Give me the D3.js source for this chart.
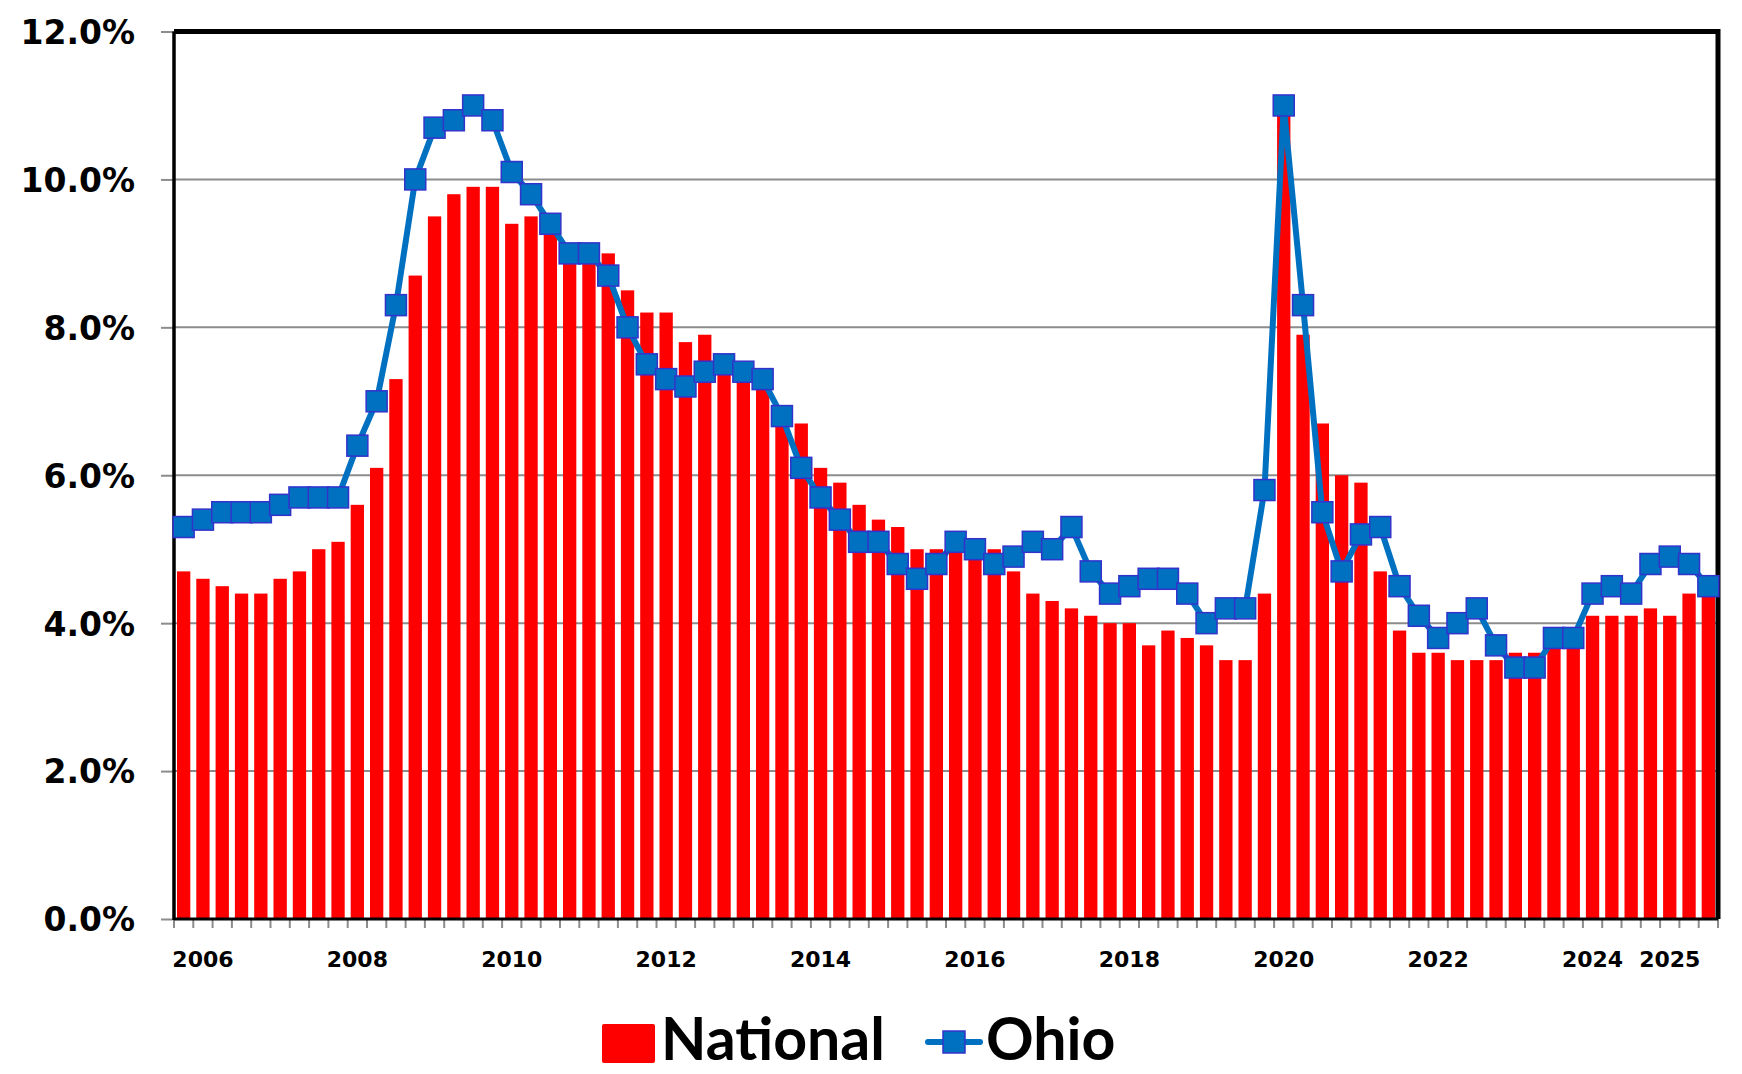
<!DOCTYPE html>
<html>
<head>
<meta charset="utf-8">
<script src="https://cdn.jsdelivr.net/npm/d3@7"></script>
<style>
  body { margin: 0; background: #fff; }
  svg { display: block; }
</style>
</head>
<body>
<div id="chart"></div>
<script>
// quarterly categories, 2005 Q4 .. 2025 Q3
const quarters = [
  "2005Q4",
  "2006Q1", "2006Q2", "2006Q3", "2006Q4",
  "2007Q1", "2007Q2", "2007Q3", "2007Q4",
  "2008Q1", "2008Q2", "2008Q3", "2008Q4",
  "2009Q1", "2009Q2", "2009Q3", "2009Q4",
  "2010Q1", "2010Q2", "2010Q3", "2010Q4",
  "2011Q1", "2011Q2", "2011Q3", "2011Q4",
  "2012Q1", "2012Q2", "2012Q3", "2012Q4",
  "2013Q1", "2013Q2", "2013Q3", "2013Q4",
  "2014Q1", "2014Q2", "2014Q3", "2014Q4",
  "2015Q1", "2015Q2", "2015Q3", "2015Q4",
  "2016Q1", "2016Q2", "2016Q3", "2016Q4",
  "2017Q1", "2017Q2", "2017Q3", "2017Q4",
  "2018Q1", "2018Q2", "2018Q3", "2018Q4",
  "2019Q1", "2019Q2", "2019Q3", "2019Q4",
  "2020Q1", "2020Q2", "2020Q3", "2020Q4",
  "2021Q1", "2021Q2", "2021Q3", "2021Q4",
  "2022Q1", "2022Q2", "2022Q3", "2022Q4",
  "2023Q1", "2023Q2", "2023Q3", "2023Q4",
  "2024Q1", "2024Q2", "2024Q3", "2024Q4",
  "2025Q1", "2025Q2", "2025Q3"
];

// unemployment rate, %
const national = [
  4.7, 4.6, 4.5, 4.4, 4.4, 4.6, 4.7, 5.0, 5.1, 5.6,
  6.1, 7.3, 8.7, 9.5, 9.8, 9.9, 9.9, 9.4, 9.5, 9.3,
  9.0, 9.0, 9.0, 8.5, 8.2, 8.2, 7.8, 7.9, 7.5, 7.3,
  7.2, 6.9, 6.7, 6.1, 5.9, 5.6, 5.4, 5.3, 5.0, 5.0,
  5.0, 5.0, 5.0, 4.7, 4.4, 4.3, 4.2, 4.1, 4.0, 4.0,
  3.7, 3.9, 3.8, 3.7, 3.5, 3.5, 4.4, 11.0, 7.9, 6.7,
  6.0, 5.9, 4.7, 3.9, 3.6, 3.6, 3.5, 3.5, 3.5, 3.6,
  3.6, 3.7, 3.8, 4.1, 4.1, 4.1, 4.2, 4.1, 4.4, 4.5
];

const ohio = [
  5.3, 5.4, 5.5, 5.5, 5.5, 5.6, 5.7, 5.7, 5.7, 6.4,
  7.0, 8.3, 10.0, 10.7, 10.8, 11.0, 10.8, 10.1, 9.8, 9.4,
  9.0, 9.0, 8.7, 8.0, 7.5, 7.3, 7.2, 7.4, 7.5, 7.4,
  7.3, 6.8, 6.1, 5.7, 5.4, 5.1, 5.1, 4.8, 4.6, 4.8,
  5.1, 5.0, 4.8, 4.9, 5.1, 5.0, 5.3, 4.7, 4.4, 4.5,
  4.6, 4.6, 4.4, 4.0, 4.2, 4.2, 5.8, 11.0, 8.3, 5.5,
  4.7, 5.2, 5.3, 4.5, 4.1, 3.8, 4.0, 4.2, 3.7, 3.4,
  3.4, 3.8, 3.8, 4.4, 4.5, 4.4, 4.8, 4.9, 4.8, 4.5
];

const tickQuarters = ["2006Q1", "2008Q1", "2010Q1", "2012Q1", "2014Q1", "2016Q1",
                      "2018Q1", "2020Q1", "2022Q1", "2024Q1", "2025Q1"];
const tickLabels = ["2006", "2008", "2010", "2012", "2014", "2016",
                    "2018", "2020", "2022", "2024", "2025"];
const yTicks = [0, 2, 4, 6, 8, 10, 12];

const width = 1742, height = 1074;
const margin = {top: 31.5, right: 24, bottom: 155, left: 174};

const svg = d3.select("#chart").append("svg")
    .attr("width", width)
    .attr("height", height);

const x = d3.scaleBand()
    .domain(quarters)
    .range([margin.left, width - margin.right])
    .paddingInner(0.31)
    .paddingOuter(0.155);

const y = d3.scaleLinear()
    .domain([0, 12])
    .range([height - margin.bottom, margin.top]);

const data = quarters.map((q, i) => ({q: q, nat: national[i], oh: ohio[i]}));

// gridlines
svg.append("g")
  .selectAll("line")
  .data(yTicks.filter(t => t > 0 && t < 12))
  .enter().append("line")
    .attr("x1", margin.left)
    .attr("x2", width - margin.right)
    .attr("y1", d => y(d))
    .attr("y2", d => y(d))
    .attr("stroke", "#8c8c8c")
    .attr("stroke-width", 2);

// bars
svg.append("g")
  .selectAll("rect")
  .data(data)
  .enter().append("rect")
    .attr("x", d => x(d.q))
    .attr("width", x.bandwidth())
    .attr("y", d => y(d.nat))
    .attr("height", d => y(0) - y(d.nat))
    .attr("fill", "#ff0000");

// y axis
const yAxis = svg.append("g")
    .attr("transform", "translate(" + margin.left + ",0)")
    .call(d3.axisLeft(y)
      .tickValues(yTicks)
      .tickSize(13)
      .tickPadding(26)
      .tickFormat(d => d3.format(".1f")(d) + "%"));
yAxis.select(".domain").remove();
yAxis.selectAll(".tick line").attr("stroke", "#8c8c8c").attr("stroke-width", 2);
yAxis.selectAll("text")
    .attr("font-family", "'DejaVu Sans', Verdana, sans-serif")
    .attr("font-weight", "bold")
    .attr("font-size", 33)
    .attr("fill", "#000")
    .attr("dy", "0.36em");

// x axis: small ticks on category boundaries
const step = x.step();
svg.append("g")
  .selectAll("line")
  .data(quarters.concat(["end"]))
  .enter().append("line")
    .attr("x1", (d, i) => margin.left + i * step)
    .attr("x2", (d, i) => margin.left + i * step)
    .attr("y1", y(0))
    .attr("y2", y(0) + 9)
    .attr("stroke", "#8c8c8c")
    .attr("stroke-width", 2);

const xAxis = svg.append("g")
    .attr("transform", "translate(0," + y(0) + ")")
    .call(d3.axisBottom(x)
      .tickValues(tickQuarters)
      .tickSize(0)
      .tickFormat((d, i) => tickLabels[i]));
xAxis.select(".domain").remove();
xAxis.selectAll("text")
    .attr("y", 48)
    .attr("dy", null)
    .attr("font-family", "'DejaVu Sans', Verdana, sans-serif")
    .attr("font-weight", "bold")
    .attr("font-size", 22)
    .attr("fill", "#000");

// frame: left axis, bottom axis, top and right borders
svg.append("line")
    .attr("x1", margin.left).attr("x2", margin.left)
    .attr("y1", margin.top).attr("y2", y(0) + 1)
    .attr("stroke", "#000").attr("stroke-width", 3.5);
svg.append("line")
    .attr("x1", margin.left).attr("x2", width - margin.right)
    .attr("y1", y(0)).attr("y2", y(0))
    .attr("stroke", "#000").attr("stroke-width", 3);
svg.append("path")
    .attr("d", "M" + margin.left + "," + margin.top + "H" + (width - margin.right) + "V" + y(0))
    .attr("fill", "none")
    .attr("stroke", "#000")
    .attr("stroke-width", 5);

// Ohio line + markers
const line = d3.line()
    .x(d => x(d.q) + x.bandwidth() / 2)
    .y(d => y(d.oh));

svg.append("path")
    .datum(data)
    .attr("d", line)
    .attr("fill", "none")
    .attr("stroke", "#0070c0")
    .attr("stroke-width", 6)
    .attr("stroke-linejoin", "round");

const ms = 21;
svg.append("g")
  .selectAll("rect")
  .data(data)
  .enter().append("rect")
    .attr("x", d => x(d.q) + x.bandwidth() / 2 - ms / 2)
    .attr("y", d => y(d.oh) - ms / 2)
    .attr("width", ms)
    .attr("height", ms)
    .attr("fill", "#0070c0")
    .attr("stroke", "#3333cc")
    .attr("stroke-width", 1.5);

// legend
const legend = svg.append("g");
legend.append("rect")
    .attr("x", 602).attr("y", 1024)
    .attr("width", 53).attr("height", 39)
    .attr("rx", 2)
    .attr("fill", "#ff0000");
legend.append("text")
    .attr("x", 661).attr("y", 1060)
    .attr("font-family", "Lato, 'Open Sans', sans-serif")
    .attr("font-weight", "bold")
    .attr("font-size", 59)
    .attr("fill", "#000")
    .text("National");
legend.append("line")
    .attr("x1", 928).attr("x2", 980)
    .attr("y1", 1042).attr("y2", 1042)
    .attr("stroke", "#0070c0")
    .attr("stroke-width", 6)
    .attr("stroke-linecap", "round");
legend.append("rect")
    .attr("x", 943).attr("y", 1031)
    .attr("width", 22).attr("height", 22)
    .attr("fill", "#0070c0")
    .attr("stroke", "#3333cc")
    .attr("stroke-width", 1.5);
legend.append("text")
    .attr("x", 986).attr("y", 1060)
    .attr("font-family", "Lato, 'Open Sans', sans-serif")
    .attr("font-weight", "bold")
    .attr("font-size", 59)
    .attr("fill", "#000")
    .text("Ohio");
</script>
</body>
</html>
